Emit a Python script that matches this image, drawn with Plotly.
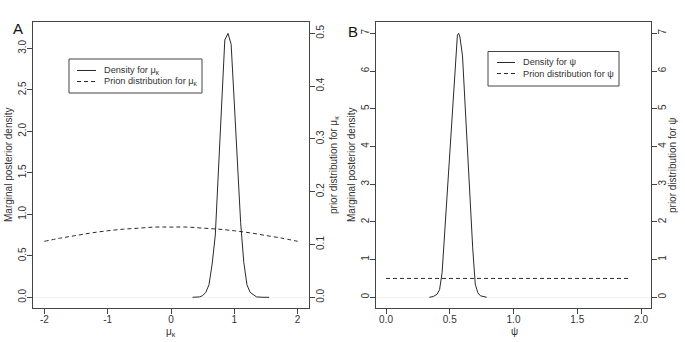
import plotly.graph_objects as go

# ---- data ----
mu_x = [0.34, 0.45, 0.50, 0.55, 0.60, 0.65, 0.70, 0.75, 0.80, 0.85, 0.90, 0.95,
        1.00, 1.05, 1.10, 1.15, 1.20, 1.25, 1.30, 1.35, 1.45, 1.55]
mu_density = [0.0, 0.005, 0.02, 0.06, 0.15, 0.40, 0.75, 1.50, 2.35, 3.10, 3.18, 3.05,
              2.34, 1.62, 0.90, 0.42, 0.15, 0.06, 0.03, 0.005, 0.0, 0.0]
mu_prior_x = [-2.0, -1.75, -1.5, -1.25, -1.0, -0.75, -0.5, -0.25, 0.0,
              0.25, 0.5, 0.75, 1.0, 1.25, 1.5, 1.75, 2.0]
mu_prior = [0.106, 0.112, 0.117, 0.122, 0.126, 0.129, 0.131, 0.133, 0.133,
            0.133, 0.131, 0.129, 0.126, 0.122, 0.117, 0.112, 0.106]

psi_x = [0.34, 0.37, 0.40, 0.42, 0.44, 0.46, 0.48, 0.50, 0.52, 0.54, 0.56, 0.57,
         0.58, 0.60, 0.62, 0.64, 0.66, 0.68, 0.70, 0.72, 0.74, 0.77, 0.79]
psi_density = [0.0, 0.02, 0.08, 0.20, 0.65, 1.75, 2.85, 3.95, 5.05, 6.15, 6.95, 7.0,
               6.9, 6.4, 5.1, 3.8, 2.56, 1.31, 0.35, 0.12, 0.04, 0.005, 0.0]
psi_prior_x = [0.0, 1.9]
psi_prior = [0.5, 0.5]

xticks_a = [-2, -1, 0, 1, 2]
xticks_b = [0.0, 0.5, 1.0, 1.5, 2.0]
yticks_a_left = [0.0, 0.5, 1.0, 1.5, 2.0, 2.5, 3.0]
yticks_a_right = [0.0, 0.1, 0.2, 0.3, 0.4, 0.5]
yticks_b = [0, 1, 2, 3, 4, 5, 6, 7]

legend_a = ["Density for μ<sub>κ</sub>", "Prion distribution for μ<sub>κ</sub>"]
legend_b = ["Density for ψ", "Prion distribution for ψ"]

# ---- layout geometry (pixels -> paper) ----
W, H = 685, 342
def px(x):
    return x / W
def py(y):
    return 1 - y / H

FONT = "Liberation Sans, Arial, sans-serif"
LINE = "#2a2a2a"
AX = "#444444"
TXT = "#333333"
DASH = "4px,3px"

fig = go.Figure()

fig.add_trace(go.Scatter(x=mu_x, y=mu_density, mode="lines", xaxis="x", yaxis="y",
                         line=dict(color=LINE, width=1), name=legend_a[0]))
fig.add_trace(go.Scatter(x=mu_prior_x, y=mu_prior, mode="lines", xaxis="x", yaxis="y2",
                         line=dict(color=LINE, width=1, dash=DASH, shape="spline"),
                         name=legend_a[1]))
fig.add_trace(go.Scatter(x=psi_x, y=psi_density, mode="lines", xaxis="x2", yaxis="y3",
                         line=dict(color=LINE, width=1), name=legend_b[0]))
fig.add_trace(go.Scatter(x=psi_prior_x, y=psi_prior, mode="lines", xaxis="x2", yaxis="y4",
                         line=dict(color=LINE, width=1, dash=DASH), name=legend_b[1]))

tickfont = dict(family=FONT, size=10, color=TXT)
common_axis = dict(showgrid=False, showline=True, linecolor=AX, linewidth=1,
                   ticks="outside", ticklen=5, tickcolor=AX, tickfont=tickfont,
                   ticklabelstandoff=-3, zeroline=False, fixedrange=True)

domA = [px(33), px(309)]
domB = [px(376), px(651)]
domY = [py(308), py(22)]

fig.update_layout(
    width=W, height=H,
    margin=dict(l=0, r=0, t=0, b=0),
    paper_bgcolor="white", plot_bgcolor="white",
    font=dict(family=FONT, size=10, color=TXT),
    showlegend=False,
    xaxis=dict(common_axis, domain=domA, range=[-2.18, 2.18], anchor="y", mirror=True,
               tickvals=xticks_a, ticktext=[str(v) for v in xticks_a]),
    yaxis=dict(common_axis, domain=domY, range=[-0.129, 3.317], anchor="x", mirror=True,
               tickvals=yticks_a_left, ticktext=[f"{v:.1f}" for v in yticks_a_left],
               tickangle=-90, zeroline=True, zerolinecolor="#f2f2f2", zerolinewidth=1),
    yaxis2=dict(common_axis, domain=domY, range=[-0.0203, 0.5214], anchor="x",
                overlaying="y", side="right",
                tickvals=yticks_a_right, ticktext=[f"{v:.1f}" for v in yticks_a_right],
                tickangle=-90),
    xaxis2=dict(common_axis, domain=domB, range=[-0.0784, 2.0784], anchor="y3", mirror=True,
                tickvals=xticks_b, ticktext=[f"{v:.1f}" for v in xticks_b]),
    yaxis3=dict(common_axis, domain=domY, range=[-0.284, 7.30], anchor="x2", mirror=True,
                tickvals=yticks_b, ticktext=[str(v) for v in yticks_b],
                tickangle=-90, zeroline=True, zerolinecolor="#f2f2f2", zerolinewidth=1),
    yaxis4=dict(common_axis, domain=domY, range=[-0.284, 7.30], anchor="x2",
                overlaying="y3", side="right",
                tickvals=yticks_b, ticktext=[str(v) for v in yticks_b],
                tickangle=-90),
)

# ---- legends drawn as boxes with key lines and text ----
def draw_legend(box, line_x, text_x, rows, labels):
    x0, y0, x1, y1 = box
    fig.add_shape(type="rect", xref="paper", yref="paper",
                  x0=px(x0), x1=px(x1), y0=py(y1), y1=py(y0),
                  line=dict(color=AX, width=1), fillcolor="white", layer="above")
    for r, lab, d in zip(rows, labels, ["solid", DASH]):
        fig.add_shape(type="line", xref="paper", yref="paper",
                      x0=px(line_x[0]), x1=px(line_x[1]), y0=py(r), y1=py(r),
                      line=dict(color=LINE, width=1, dash=d), layer="above")
        fig.add_annotation(xref="paper", yref="paper", showarrow=False,
                           x=px(text_x), y=py(r), xanchor="left", yanchor="middle",
                           text=lab, font=dict(size=9.2, color=TXT, family=FONT))

draw_legend((69, 59, 202, 93), (77, 96), 102, (70.5, 81.5), legend_a)
draw_legend((488, 51.5, 619, 86), (497, 515), 521, (62.5, 73.5), legend_b)

ann = [
    dict(text="A", x=px(17.5), y=py(29), font=dict(size=15, color="#111", family=FONT)),
    dict(text="B", x=px(352.5), y=py(31), font=dict(size=15, color="#111", family=FONT)),
    dict(text="Marginal posterior density", x=px(9), y=py(165), textangle=-90),
    dict(text="prior distribution for μ<sub>κ</sub>", x=px(334), y=py(165), textangle=-90),
    dict(text="μ<sub>κ</sub>", x=px(171), y=py(332)),
    dict(text="Marginal posterior density", x=px(352), y=py(165), textangle=-90),
    dict(text="prior distribution for ψ", x=px(673), y=py(165), textangle=-90),
    dict(text="ψ", x=px(514), y=py(331)),
]
for a in ann:
    fig.add_annotation(xref="paper", yref="paper", showarrow=False,
                       xanchor="center", yanchor="middle",
                       font=a.pop("font", dict(size=10, color=TXT, family=FONT)), **a)

fig.write_html("out.html", config={"displayModeBar": False},
               post_script="document.body.style.margin='0';document.body.style.overflow='hidden';")
